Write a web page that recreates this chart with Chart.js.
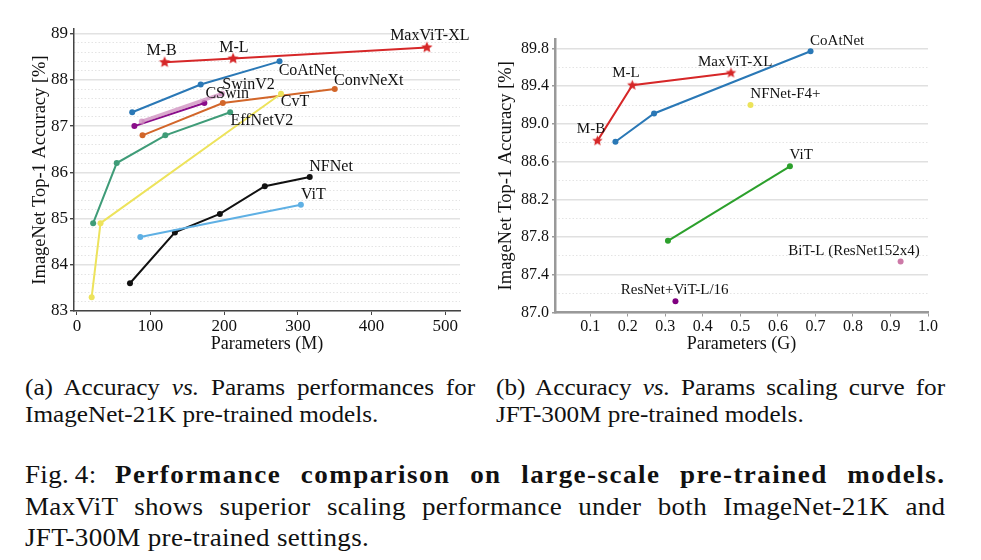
<!DOCTYPE html>
<html>
<head>
<meta charset="utf-8">
<script src="https://cdn.jsdelivr.net/npm/chart.js@4.4.0/dist/chart.umd.min.js"></script>
<style>
  body { margin:0; background:#fff; width:981px; height:560px; position:relative; overflow:hidden;
         font-family:"Liberation Serif", "Times New Roman", Times, serif; color:#111; }
  .plot { position:absolute; top:0; width:480px; height:360px; }
  .cap { position:absolute; font-size:22.5px; line-height:27px; transform:scaleX(1.12); transform-origin:0 0; }
  .big { font-size:26px; letter-spacing:0.3px; line-height:31.5px; transform:scaleX(1.04); }
  .big b { letter-spacing:1.4px; }
  .j { text-align:justify; text-align-last:justify; }
</style>
</head>
<body>
<div class="plot" style="left:0"><canvas id="chartA" width="480" height="360"></canvas></div>
<div class="plot" style="left:480px"><canvas id="chartB" width="480" height="360"></canvas></div>

<div class="cap" style="left:25px; top:374px; width:402px;">
  <div class="j">(a) Accuracy <i>vs.</i> Params performances for</div>
  <div>ImageNet-21K pre-trained models.</div>
</div>
<div class="cap" style="left:496px; top:374px; width:401px;">
  <div class="j">(b) Accuracy <i>vs.</i> Params scaling curve for</div>
  <div>JFT-300M pre-trained models.</div>
</div>
<div class="cap big" style="left:25px; top:459px; width:885px;">
  <div class="j">Fig.&thinsp;4: <b>Performance comparison on large-scale pre-trained models.</b></div>
  <div class="j">MaxViT shows superior scaling performance under both ImageNet-21K and</div>
  <div>JFT-300M pre-trained settings.</div>
</div>

<script>
// ---- (a) ImageNet-21K pre-trained, params in M ----
const maxvitParamsA = [119, 212, 475];
const maxvitAccA = [88.38, 88.46, 88.70];
const coatnetParamsA = [75, 168, 275];
const coatnetAccA = [87.3, 87.9, 88.4];
const swinv2ParamsA = [88, 197];
const swinv2AccA = [87.1, 87.7];
const cswinParamsA = [78, 173];
const cswinAccA = [87.0, 87.5];
const convnextParamsA = [89, 198, 350];
const convnextAccA = [86.8, 87.5, 87.8];
const effnetParamsA = [22, 54, 120, 208];
const effnetAccA = [84.9, 86.2, 86.8, 87.3];
const cvtParamsA = [20, 32, 277];
const cvtAccA = [83.3, 84.9, 87.7];
const nfnetParamsA = [72, 133, 194, 255, 316];
const nfnetAccA = [83.6, 84.7, 85.1, 85.7, 85.9];
const vitParamsA = [86, 304];
const vitAccA = [84.6, 85.3];

const xTicksA = [0, 100, 200, 300, 400, 500];
const yTicksA = [83, 84, 85, 86, 87, 88, 89];
const yMinorA = [83.2, 83.4, 83.6, 83.8, 84.2, 84.4, 84.6, 84.8, 85.2, 85.4, 85.6, 85.8,
                 86.2, 86.4, 86.6, 86.8, 87.2, 87.4, 87.6, 87.8, 88.2, 88.4, 88.6, 88.8];

// text labels (data coordinates)
const labelNamesA = ['M-B', 'M-L', 'MaxViT-XL', 'CoAtNet', 'SwinV2', 'CSwin', 'ConvNeXt', 'CvT', 'EffNetV2', 'NFNet', 'ViT'];
const labelXA = [115, 213, 479, 313, 233, 204, 396, 296, 251, 345, 321];
const labelYA = [88.62, 88.70, 88.96, 88.19, 87.90, 87.70, 87.99, 87.52, 87.11, 86.12, 85.51];

// ---- (b) JFT-300M pre-trained, params in G ----
const maxvitParamsB = [0.119, 0.212, 0.475];
const maxvitAccB = [88.82, 89.41, 89.54];
const coatnetParamsB = [0.167, 0.270, 0.687];
const coatnetAccB = [88.81, 89.11, 89.77];
const nfnetParamsB = [0.527];
const nfnetAccB = [89.2];
const vitParamsB = [0.307, 0.632];
const vitAccB = [87.76, 88.55];
const resvitParamsB = [0.327];
const resvitAccB = [87.12];
const bitParamsB = [0.927];
const bitAccB = [87.54];

const xTicksB = [0.1, 0.2, 0.3, 0.4, 0.5, 0.6, 0.7, 0.8, 0.9, 1.0];
const yTicksB = [87.0, 87.4, 87.8, 88.2, 88.6, 89.0, 89.4, 89.8];
const yMinorB = [87.2, 87.6, 88.0, 88.4, 88.8, 89.2, 89.6];

const labelNamesB = ['CoAtNet', 'MaxViT-XL', 'M-L', 'M-B', 'NFNet-F4+', 'ViT', 'ResNet+ViT-L/16', 'BiT-L (ResNet152x4)'];
const labelXB = [0.758, 0.486, 0.195, 0.102, 0.620, 0.662, 0.325, 0.803];
const labelYB = [89.88, 89.66, 89.54, 88.95, 89.32, 88.67, 87.24, 87.65];

const FONT = '"Liberation Serif", "Times New Roman", serif';

function pts(xs, ys) {
  return xs.map((x, i) => ({ x: x, y: ys[i] }));
}

// filled 5-point star used as point style for MaxViT
function makeStar(color, r) {
  const c = document.createElement('canvas');
  c.width = c.height = Math.ceil(r * 2 + 2);
  const g = c.getContext('2d');
  g.fillStyle = color;
  g.beginPath();
  for (let i = 0; i < 10; i++) {
    const rad = i % 2 ? r * 0.45 : r;
    const a = -Math.PI / 2 + i * Math.PI / 5;
    g.lineTo(c.width / 2 + rad * Math.cos(a), c.height / 2 + rad * Math.sin(a));
  }
  g.closePath();
  g.fill();
  return c;
}

function series(label, xs, ys, color, extra) {
  return Object.assign({
    label: label,
    data: pts(xs, ys),
    borderColor: color,
    backgroundColor: color,
    pointBackgroundColor: color,
    pointBorderWidth: 0,
    pointRadius: 3,
    borderWidth: 2,
    tension: 0
  }, extra || {});
}

const textLabels = {
  id: 'textLabels',
  afterDatasetsDraw(chart, args, opts) {
    const ctx = chart.ctx;
    const x = chart.scales.x, y = chart.scales.y;
    ctx.save();
    ctx.font = opts.size + 'px ' + FONT;
    ctx.fillStyle = '#111';
    ctx.textAlign = 'center';
    ctx.textBaseline = 'middle';
    opts.names.forEach((t, i) => {
      ctx.fillText(t, x.getPixelForValue(opts.xs[i]), y.getPixelForValue(opts.ys[i]));
    });
    ctx.restore();
  }
};

function setTicks(list) {
  return s => { s.ticks = list.map(v => ({ value: v })); };
}

// ---------- chart (a) ----------
new Chart(document.getElementById('chartA'), {
  type: 'line',
  data: {
    datasets: [
      series('ViT', vitParamsA, vitAccA, '#5fb0e4'),
      series('NFNet', nfnetParamsA, nfnetAccA, '#111111'),
      series('CvT', cvtParamsA, cvtAccA, '#ede35c'),
      series('EffNetV2', effnetParamsA, effnetAccA, '#3f9c78'),
      series('ConvNeXt', convnextParamsA, convnextAccA, '#d2662a'),
      series('SwinV2', swinv2ParamsA, swinv2AccA, 'rgba(206,140,190,0.75)', { borderWidth: 3.5 }),
      series('CSwin', cswinParamsA, cswinAccA, '#8a0d8a'),
      series('CoAtNet', coatnetParamsA, coatnetAccA, '#2a78b6'),
      series('MaxViT', maxvitParamsA, maxvitAccA, '#d62728', { pointStyle: makeStar('#d62728', 6) })
    ]
  },
  options: {
    responsive: false,
    animation: false,
    layout: { padding: { left: 25, right: 20, top: 29, bottom: 0 } },
    plugins: {
      legend: { display: false },
      tooltip: { enabled: false },
      textLabels: { names: labelNamesA, xs: labelXA, ys: labelYA, size: 16 }
    },
    scales: {
      x: {
        type: 'linear', min: -4, max: 520,
        afterBuildTicks: setTicks(xTicksA),
        afterFit: s => { s.height = 49; },
        grid: { drawOnChartArea: false, tickLength: 4, tickColor: '#444' },
        border: { color: '#444', width: 1.5 },
        ticks: { color: '#111', font: { family: FONT, size: 17 }, padding: 1, maxRotation: 0, autoSkip: false },
        title: { display: true, text: 'Parameters (M)', color: '#111', font: { family: FONT, size: 18 }, padding: { top: 0, bottom: 5 } }
      },
      y: {
        type: 'linear', position: 'left', min: 83, max: 89.1,
        afterBuildTicks: setTicks(yTicksA),
        afterFit: s => { s.width = 49; },
        grid: { color: '#e2e2e2', lineWidth: 1.4, tickLength: 4, tickColor: '#444' },
        border: { color: '#444', width: 1.5 },
        ticks: { color: '#111', font: { family: FONT, size: 17 }, padding: 2, callback: v => v.toFixed(0) },
        title: { display: true, text: 'ImageNet Top-1 Accuracy [%]', color: '#111', font: { family: FONT, size: 18.5 }, padding: { top: 4, bottom: 0 } }
      },
      yMinor: {
        type: 'linear', position: 'left', min: 83, max: 89.1,
        afterBuildTicks: setTicks(yMinorA),
        afterFit: s => { s.width = 0; },
        ticks: { display: false },
        grid: { color: '#e4e4e4', lineWidth: 1, drawTicks: false },
        border: { display: false, dash: [1.5, 2] }
      }
    }
  },
  plugins: [textLabels]
});

// ---------- chart (b) ----------
new Chart(document.getElementById('chartB'), {
  type: 'line',
  data: {
    datasets: [
      series('ResNet+ViT-L/16', resvitParamsB, resvitAccB, '#800080'),
      series('BiT-L', bitParamsB, bitAccB, '#cc79a7'),
      series('ViT', vitParamsB, vitAccB, '#2ca02c'),
      series('NFNet-F4+', nfnetParamsB, nfnetAccB, '#ece35a'),
      series('CoAtNet', coatnetParamsB, coatnetAccB, '#2a78b6'),
      series('MaxViT', maxvitParamsB, maxvitAccB, '#d62728', { pointStyle: makeStar('#d62728', 5.5) })
    ]
  },
  options: {
    responsive: false,
    animation: false,
    layout: { padding: { left: 11, right: 32, top: 39, bottom: 0 } },
    plugins: {
      legend: { display: false },
      tooltip: { enabled: false },
      textLabels: { names: labelNamesB, xs: labelXB, ys: labelYB, size: 15 }
    },
    scales: {
      x: {
        type: 'linear', min: 0.006, max: 1.0,
        afterBuildTicks: setTicks(xTicksB),
        afterFit: s => { s.height = 47.5; },
        grid: { drawOnChartArea: false, tickLength: 4, tickColor: '#999' },
        border: { color: '#999', width: 2.5 },
        ticks: { color: '#111', font: { family: FONT, size: 16 }, padding: 1, maxRotation: 0, autoSkip: false, callback: v => v.toFixed(1) },
        title: { display: true, text: 'Parameters (G)', color: '#111', font: { family: FONT, size: 18 }, padding: { top: 0, bottom: 5 } }
      },
      y: {
        type: 'linear', position: 'left', min: 87.0, max: 89.9,
        afterBuildTicks: setTicks(yTicksB),
        afterFit: s => { s.width = 64; },
        grid: { color: '#e0e0e0', lineWidth: 1.5, tickLength: 3, tickColor: '#999' },
        border: { color: '#999', width: 2.5 },
        ticks: { color: '#111', font: { family: FONT, size: 16 }, padding: 3, callback: v => v.toFixed(1) },
        title: { display: true, text: 'ImageNet Top-1 Accuracy [%]', color: '#111', font: { family: FONT, size: 18.5 }, padding: { top: 4, bottom: 0 } }
      },
      yMinor: {
        type: 'linear', position: 'left', min: 87.0, max: 89.9,
        afterBuildTicks: setTicks(yMinorB),
        afterFit: s => { s.width = 0; },
        ticks: { display: false },
        grid: { color: '#e4e4e4', lineWidth: 1, drawTicks: false },
        border: { display: false, dash: [1.5, 2] }
      }
    }
  },
  plugins: [textLabels]
});
</script>
</body>
</html>
